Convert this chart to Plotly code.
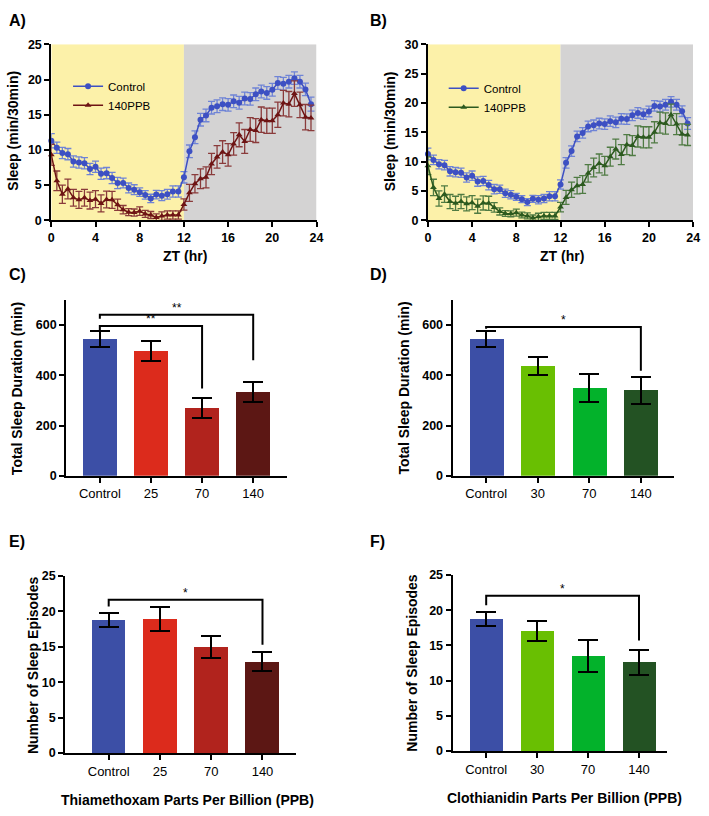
import plotly.graph_objects as go

# ---------------- DATA ----------------
zt = [i * 0.5 for i in range(48)]
ctrl_sleep = [11.3, 10.3, 9.55, 9.4, 8.35, 8.2, 8.1, 7.3, 7.6, 6.6, 6.7, 6.0, 5.3, 5.3, 4.6, 4.35,
              4.0, 3.6, 3.1, 3.65, 3.5, 3.7, 4.1, 4.1, 6.1, 9.8, 11.8, 14.3, 14.9, 16.0, 16.2, 16.5,
              16.4, 16.9, 16.7, 17.3, 17.25, 17.9, 18.3, 18.1, 18.55, 19.5, 19.4, 19.7, 20.2, 19.7, 18.6, 16.5]
ctrl_err = [1.0, 0.8, 0.8, 0.8, 0.8, 0.8, 0.8, 0.8, 0.8, 0.8, 0.8, 0.8, 0.8, 0.7, 0.7, 0.7,
            0.6, 0.6, 0.6, 0.6, 0.7, 0.7, 0.8, 0.8, 0.8, 0.9, 0.9, 0.9, 0.9, 0.9, 0.9, 0.9,
            0.9, 0.9, 0.9, 0.9, 0.9, 0.9, 0.9, 0.9, 0.9, 0.9, 0.9, 0.9, 0.9, 0.9, 0.9, 1.0]
ppb_sleep = [9.3, 5.6, 3.7, 4.45, 3.2, 2.9, 3.2, 2.8, 3.0, 2.4, 2.95, 2.9, 2.2, 1.5, 1.15, 1.1,
             1.3, 0.9, 0.75, 0.4, 0.6, 0.75, 0.75, 0.75, 2.25, 3.9, 5.2, 5.9, 6.1, 8.0, 9.0, 9.7,
             9.3, 10.85, 12.15, 11.2, 12.9, 12.75, 14.3, 14.15, 14.15, 15.0, 16.65, 16.5, 18.0, 16.4, 14.65, 14.55]
ppb_err = [1.5, 1.4, 1.3, 1.4, 1.2, 1.2, 1.2, 1.2, 1.2, 1.2, 1.2, 1.2, 0.8, 0.6, 0.5, 0.5,
           0.6, 0.5, 0.5, 0.5, 0.6, 0.6, 0.6, 0.6, 0.8, 1.2, 1.3, 1.4, 1.5, 1.5, 1.6, 1.6,
           1.6, 1.6, 1.7, 1.7, 1.7, 1.7, 1.8, 1.8, 1.8, 1.8, 1.8, 1.8, 1.8, 1.8, 1.8, 1.8]

cats_thia = ["Control", "25", "70", "140"]
cats_clo = ["Control", "30", "70", "140"]
dur_thia = [545, 497, 270, 335]
dur_thia_err = [33, 40, 38, 40]
dur_clo = [545, 438, 350, 340]
dur_clo_err = [33, 35, 57, 53]
ep_thia = [18.8, 18.9, 15.0, 12.9]
ep_thia_err = [1.0, 1.7, 1.6, 1.3]
ep_clo = [18.8, 17.1, 13.5, 12.6]
ep_clo_err = [1.0, 1.4, 2.3, 1.8]

# significance: (i, j, bracket_y, left_drop_to, right_drop_to, label)
sig_C = [(0, 2, 596, 580, 347, "**"), (0, 3, 641, 625, 460, "**")]
sig_D = [(0, 3, 592, 585, 418, "*")]
sig_E = [(0, 3, 21.67, 20.7, 15.3, "*")]
sig_F = [(0, 3, 22.06, 20.7, 15.7, "*")]

thia_colors = ["#3c4fa6", "#dc2b1c", "#b1231d", "#5c1714"]
clo_colors = ["#3c4fa6", "#69bf02", "#03b22b", "#235223"]

# ---------------- LAYOUT ----------------
W, H = 709, 816
FONT = "Liberation Sans"

def dx(a, b):
    return [a / W, b / W]

def dy(top, bot):
    return [1 - bot / H, 1 - top / H]

fig = go.Figure()

panels = {
    "1": dict(x=dx(49, 318), y=dy(38, 217)),
    "2": dict(x=dx(431, 700), y=dy(38, 217)),
    "3": dict(x=dx(64, 288), y=dy(298, 477)),
    "4": dict(x=dx(456, 681), y=dy(298, 477)),
    "5": dict(x=dx(63, 297), y=dy(579, 759)),
    "6": dict(x=dx(456, 673), y=dy(578, 757)),
}

axis_common = dict(showline=True, linecolor="black", linewidth=2, ticks="outside",
                   tickwidth=2, ticklen=5, tickcolor="black", showgrid=False, zeroline=False,
                   ticklabeloverflow="allow",
                   tickfont=dict(family=FONT, size=12.5, color="black", weight="bold"))

# Time series panels
line_specs = [("1", "#6e1414", "#8a3b3b", [0, 25], 5, "legend"),
              ("2", "#2c5a1f", "#4f7b43", [0, 30], 5, "legend2")]
for k, pcol, perr, yr, dt, leg in line_specs:
    xa = "x" if k == "1" else "x" + k
    ya = "y" if k == "1" else "y" + k
    fig.add_trace(go.Scatter(x=zt, y=ctrl_sleep, mode="lines+markers", name="Control",
                             line=dict(color="#3d50c3", width=1.5),
                             marker=dict(symbol="circle", size=6, color="#3d50c3"),
                             error_y=dict(type="data", array=ctrl_err, color="#6f84d6", thickness=1.3, width=3.5),
                             xaxis=xa, yaxis=ya, legend=leg, cliponaxis=False))
    fig.add_trace(go.Scatter(x=zt, y=ppb_sleep, mode="lines+markers", name="140PPB",
                             line=dict(color=pcol, width=1.5),
                             marker=dict(symbol="triangle-up", size=6, color=pcol),
                             error_y=dict(type="data", array=ppb_err, color=perr, thickness=1.3, width=3.5),
                             xaxis=xa, yaxis=ya, legend=leg, cliponaxis=False))
    fig.add_shape(type="rect", xref=xa, yref=ya, x0=0, x1=12, y0=yr[0], y1=yr[1],
                  fillcolor="#fcf1a9", line_width=0, layer="below")
    fig.add_shape(type="rect", xref=xa, yref=ya, x0=12, x1=24, y0=yr[0], y1=yr[1],
                  fillcolor="#d4d3d3", line_width=0, layer="below")
    fig.layout["xaxis" + ("" if k == "1" else k)] = dict(domain=panels[k]["x"], anchor=ya, range=[0, 24],
                                                         tickvals=list(range(0, 25, 4)), **axis_common)
    fig.layout["yaxis" + ("" if k == "1" else k)] = dict(domain=panels[k]["y"], anchor=xa, range=yr,
                                                         tickvals=list(range(yr[0], yr[1] + 1, dt)), **axis_common)

# Bar panels
bar_specs = [("3", cats_thia, dur_thia, dur_thia_err, thia_colors, [0, 700], [0, 200, 400, 600], [-0.66, 3.66], sig_C),
             ("4", cats_clo, dur_clo, dur_clo_err, clo_colors, [0, 700], [0, 200, 400, 600], [-0.65, 3.65], sig_D),
             ("5", cats_thia, ep_thia, ep_thia_err, thia_colors, [0, 25], [0, 5, 10, 15, 20, 25], [-0.85, 3.65], sig_E),
             ("6", cats_clo, ep_clo, ep_clo_err, clo_colors, [0, 25], [0, 5, 10, 15, 20, 25], [-0.66, 3.54], sig_F)]
for k, cats, vals, errs, cols, yr, tv, xr, sigs in bar_specs:
    xa, ya = "x" + k, "y" + k
    idx = list(range(len(cats)))
    fig.add_trace(go.Bar(x=idx, y=vals, width=0.66, marker=dict(color=cols, line=dict(width=0)),
                         error_y=dict(type="data", array=errs, color="black", thickness=2, width=10),
                         xaxis=xa, yaxis=ya, showlegend=False))
    xc = dict(axis_common)
    xc["tickfont"] = dict(family=FONT, size=13, color="black")
    fig.layout["xaxis" + k] = dict(domain=panels[k]["x"], anchor=ya, range=xr, tickvals=idx,
                                   ticktext=cats, **xc)
    fig.layout["yaxis" + k] = dict(domain=panels[k]["y"], anchor=xa, range=yr, tickvals=tv, **axis_common)
    for (i, j, yb, yl, yrgt, lab) in sigs:
        fig.add_shape(type="path", xref=xa, yref=ya,
                      path=f"M {i},{yl} L {i},{yb} L {j},{yb} L {j},{yrgt}",
                      line=dict(color="black", width=2))
        fig.add_annotation(x=(i + j) / 2, y=yb, xref=xa, yref=ya, text=lab, showarrow=False,
                           yanchor="bottom", yshift=-2, font=dict(family=FONT, size=12, color="black"))

# Text annotations (panel labels, axis titles)
def ann(text, x, y, size=14, angle=0, bold=True, xanchor="center", yanchor="middle"):
    fig.add_annotation(text=text, x=x / W, y=1 - y / H, xref="paper", yref="paper", showarrow=False,
                       textangle=angle, xanchor=xanchor, yanchor=yanchor,
                       font=dict(family=FONT, size=size, color="black", weight="bold" if bold else "normal"))

for lab, x, y in [("A)", 4, 14), ("B)", 370, 14), ("C)", 4, 272), ("D)", 370, 272), ("E)", 4, 544), ("F)", 370, 544)]:
    ann(lab, x, y, size=16, xanchor="left")

ann("Sleep (min/30min)", 10, 126, angle=-90)
ann("Sleep (min/30min)", 392, 126, angle=-90)
ann("ZT (hr)", 185, 253)
ann("ZT (hr)", 567, 253)
ann("Total Sleep Duration (min)", 15, 388, angle=-90)
ann("Total Sleep Duration (min)", 407, 388, angle=-90)
ann("Number of Sleep Episodes", 30, 670, angle=-90)
ann("Number of Sleep Episodes", 414, 667, angle=-90)
ann("Thiamethoxam Parts Per Billion (PPB)", 187, 807)
ann("Clothianidin Parts Per Billion (PPB)", 570, 805)

leg_common = dict(bgcolor="rgba(0,0,0,0)", borderwidth=0, xanchor="left", yanchor="top",
                  font=dict(family=FONT, size=11.5, color="black"), itemwidth=30, tracegroupgap=2)
fig.update_layout(
    width=W, height=H, margin=dict(l=0, r=0, t=0, b=0),
    plot_bgcolor="white", paper_bgcolor="white", bargap=0,
    legend=dict(x=66 / W, y=1 - 66 / H, **leg_common),
    legend2=dict(x=447 / W, y=1 - 68 / H, **leg_common),
    showlegend=True,
)

fig.write_html("out.html", config={"displayModeBar": False},
               post_script="document.body.style.margin='0';document.body.style.overflow='hidden';")
